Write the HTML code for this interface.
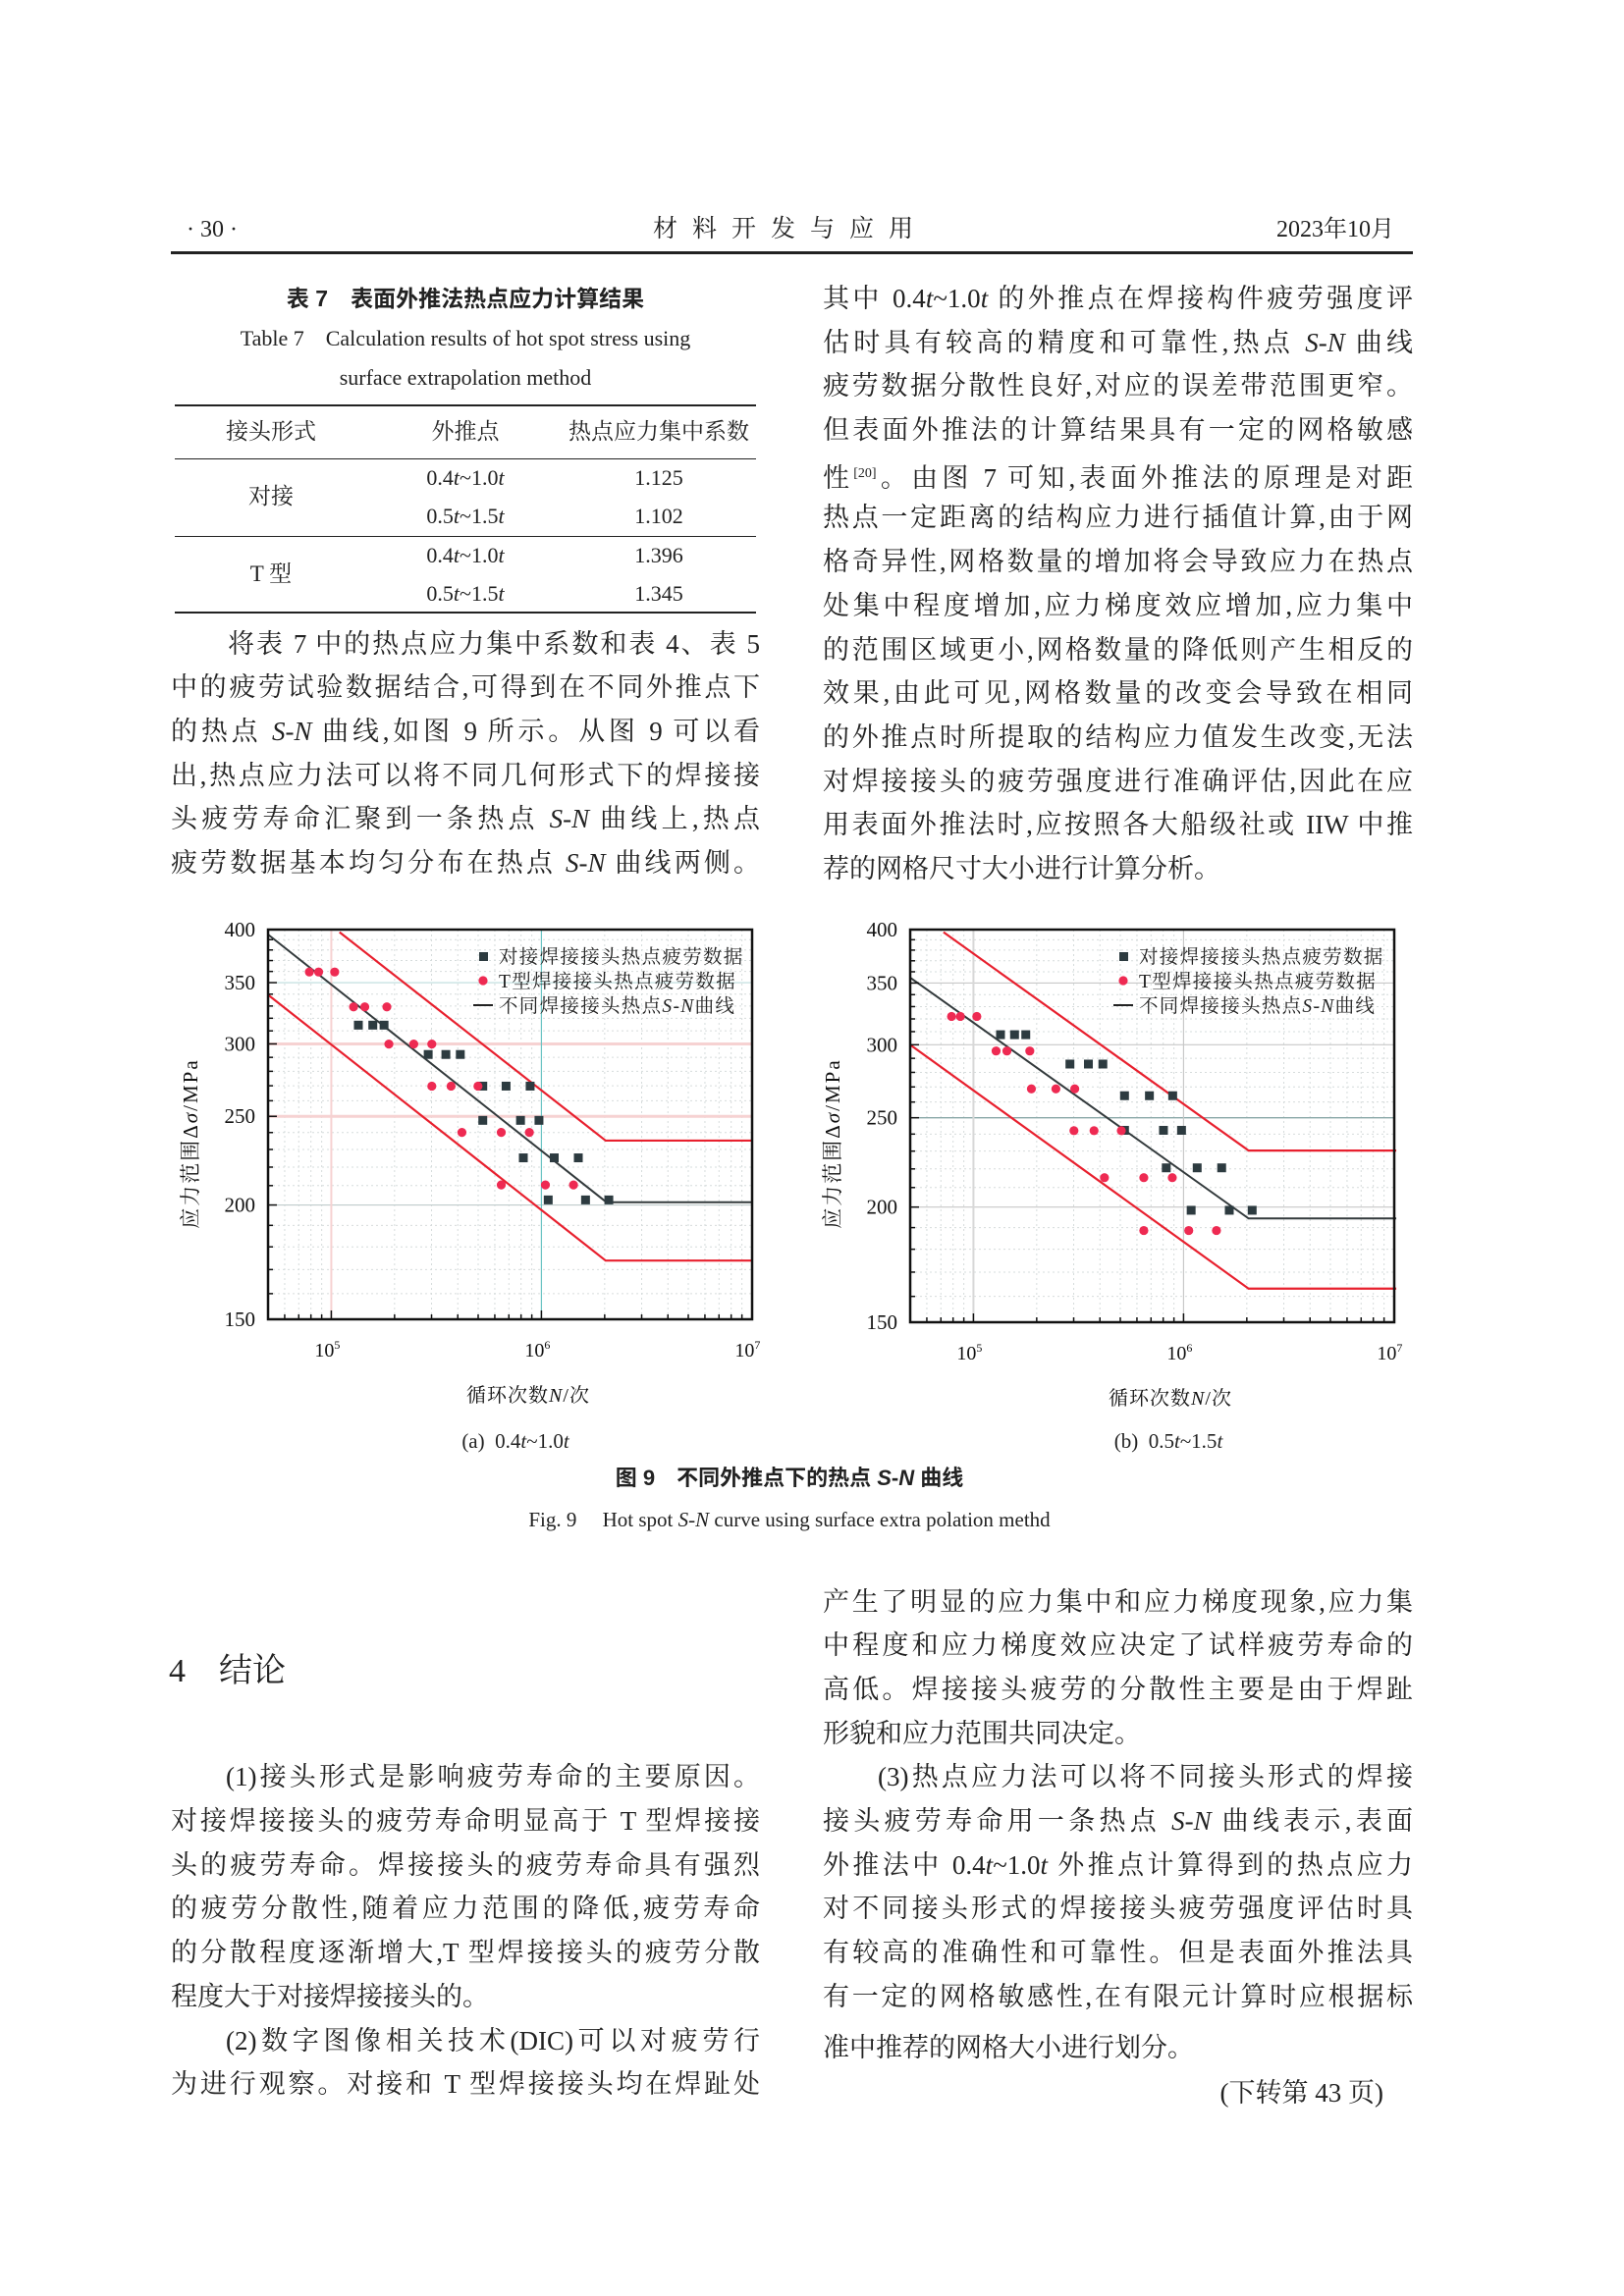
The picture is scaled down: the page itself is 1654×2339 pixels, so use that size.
<!DOCTYPE html>
<html><head><meta charset="utf-8">
<style>
body{margin:0;background:#fff;}
#pg{position:relative;width:1654px;height:2339px;overflow:hidden;background:#fff;font-family:"Liberation Serif","Noto Serif CJK SC",serif;color:#222;}
.l{position:absolute;height:40px;line-height:40px;font-size:27px;white-space:nowrap;}
.j{text-align:justify;text-align-last:justify;}
.c{text-align:center;}
.rule{position:absolute;background:#222;}
svg text{font-family:"Liberation Serif","Noto Serif CJK SC",serif;}
</style></head><body>
<div id="pg">
<div class="l" style="left:190px;top:214px;font-size:24px">· 30 ·</div>
<div class="l c" style="left:640px;top:214px;width:330px;font-size:25px;letter-spacing:15px">材料开发与应用</div>
<div class="l" style="left:1270px;top:214px;width:150px;font-size:24px;text-align:right">2023年10月</div>
<div class="rule" style="left:174px;top:256px;width:1265px;height:3px"></div>

<div class="l c" style="left:174px;top:284px;width:600px;font-size:23px;font-weight:bold;font-family:'Liberation Sans','Noto Sans CJK SC',sans-serif">表 7　表面外推法热点应力计算结果</div>
<div class="l c" style="left:174px;top:325px;width:600px;font-size:22px">Table 7　Calculation results of hot spot stress using</div>
<div class="l c" style="left:174px;top:365px;width:600px;font-size:22px">surface extrapolation method</div>
<div class="rule" style="left:178px;top:412px;width:592px;height:2px"></div>
<div class="rule" style="left:178px;top:467px;width:592px;height:1px"></div>
<div class="rule" style="left:178px;top:546px;width:592px;height:1px"></div>
<div class="rule" style="left:178px;top:623px;width:592px;height:2px"></div>
<div class="l c" style="left:176px;top:420px;width:200px;font-size:23px">接头形式</div>
<div class="l c" style="left:374px;top:420px;width:200px;font-size:23px">外推点</div>
<div class="l c" style="left:570px;top:420px;width:202px;font-size:23px">热点应力集中系数</div>
<div class="l c" style="left:176px;top:486px;width:200px;font-size:23px">对接</div>
<div class="l c" style="left:176px;top:565px;width:200px;font-size:23px">T 型</div>
<div class="l c" style="left:374px;top:467px;width:200px;font-size:22px">0.4<i>t</i>~1.0<i>t</i></div>
<div class="l c" style="left:374px;top:506px;width:200px;font-size:22px">0.5<i>t</i>~1.5<i>t</i></div>
<div class="l c" style="left:374px;top:546px;width:200px;font-size:22px">0.4<i>t</i>~1.0<i>t</i></div>
<div class="l c" style="left:374px;top:585px;width:200px;font-size:22px">0.5<i>t</i>~1.5<i>t</i></div>
<div class="l c" style="left:570px;top:467px;width:202px;font-size:22px">1.125</div>
<div class="l c" style="left:570px;top:506px;width:202px;font-size:22px">1.102</div>
<div class="l c" style="left:570px;top:546px;width:202px;font-size:22px">1.396</div>
<div class="l c" style="left:570px;top:585px;width:202px;font-size:22px">1.345</div>

<div id="txt"></div>
<svg id="sv" width="1654" height="2339" style="position:absolute;left:0;top:0"></svg>

<div class="l c" style="left:420px;top:1448px;width:210px;font-size:21px">(a)&nbsp; 0.4<i>t</i>~1.0<i>t</i></div>
<div class="l c" style="left:1085px;top:1448px;width:210px;font-size:21px">(b)&nbsp; 0.5<i>t</i>~1.5<i>t</i></div>
<div class="l c" style="left:404px;top:1486px;width:800px;font-size:22px;font-weight:bold;font-family:'Liberation Sans','Noto Sans CJK SC',sans-serif">图 9　不同外推点下的热点 <i>S</i>-<i>N</i> 曲线</div>
<div class="l c" style="left:354px;top:1528px;width:900px;font-size:21px">Fig. 9　 Hot spot <i>S</i>-<i>N</i> curve using surface extra polation methd</div>
<div class="l" style="left:172px;top:1678px;font-size:34px;height:50px;line-height:50px">4　结论</div>
</div>
<script>
var S=1.49;
function L(x,w,c,t,j){var d=document.createElement('div');d.className='l'+(j?' j':'');d.style.left=x+'px';d.style.width=w+'px';d.style.top=(c*S-20)+'px';d.innerHTML=t;document.getElementById('txt').appendChild(d);}
var LX=174,LW=600,RX=838,RW=601,I='<span style="display:inline-block;width:56px"></span>';
var R=['其中 0.4<i>t</i>~1.0<i>t</i> 的外推点在焊接构件疲劳强度评','估时具有较高的精度和可靠性,热点 <i>S</i>-<i>N</i> 曲线','疲劳数据分散性良好,对应的误差带范围更窄。','但表面外推法的计算结果具有一定的网格敏感','性<sup style="font-size:14px">[20]</sup>。由图 7 可知,表面外推法的原理是对距','热点一定距离的结构应力进行插值计算,由于网','格奇异性,网格数量的增加将会导致应力在热点','处集中程度增加,应力梯度效应增加,应力集中','的范围区域更小,网格数量的降低则产生相反的','效果,由此可见,网格数量的改变会导致在相同','的外推点时所提取的结构应力值发生改变,无法','对焊接接头的疲劳强度进行准确评估,因此在应','用表面外推法时,应按照各大船级社或 IIW 中推','荐的网格尺寸大小进行计算分析。'];
R.forEach(function(t,i){L(RX,RW,204+30*i,t,i<13);});
var A=[I+'将表 7 中的热点应力集中系数和表 4、表 5','中的疲劳试验数据结合,可得到在不同外推点下','的热点 <i>S</i>-<i>N</i> 曲线,如图 9 所示。从图 9 可以看','出,热点应力法可以将不同几何形式下的焊接接','头疲劳寿命汇聚到一条热点 <i>S</i>-<i>N</i> 曲线上,热点','疲劳数据基本均匀分布在热点 <i>S</i>-<i>N</i> 曲线两侧。'];
A.forEach(function(t,i){L(LX,LW,440+30*i,t,true);});
var B=[I+'(1)接头形式是影响疲劳寿命的主要原因。','对接焊接接头的疲劳寿命明显高于 T 型焊接接','头的疲劳寿命。焊接接头的疲劳寿命具有强烈','的疲劳分散性,随着应力范围的降低,疲劳寿命','的分散程度逐渐增大,T 型焊接接头的疲劳分散','程度大于对接焊接接头的。',I+'(2)数字图像相关技术(DIC)可以对疲劳行','为进行观察。对接和 T 型焊接接头均在焊趾处'];
B.forEach(function(t,i){L(LX,LW,1215+30*i,t,i!=5);});
var C=['产生了明显的应力集中和应力梯度现象,应力集','中程度和应力梯度效应决定了试样疲劳寿命的','高低。焊接接头疲劳的分散性主要是由于焊趾','形貌和应力范围共同决定。',I+'(3)热点应力法可以将不同接头形式的焊接','接头疲劳寿命用一条热点 <i>S</i>-<i>N</i> 曲线表示,表面','外推法中 0.4<i>t</i>~1.0<i>t</i> 外推点计算得到的热点应力','对不同接头形式的焊接接头疲劳强度评估时具','有较高的准确性和可靠性。但是表面外推法具','有一定的网格敏感性,在有限元计算时应根据标','准中推荐的网格大小进行划分。'];
C.forEach(function(t,i){L(RX,RW,1095+30*i+(i==10?5:0),t,i!=3&&i!=10);});
L(RX,RW-30,1431,'<div style="text-align:right">(下转第 43 页)</div>',false);

var sv=document.getElementById('sv'),h='';
function chart(o){
 var lg=Math.log10,x0=lg(5e4);
 function xp(n){return o.l+(lg(n)-x0)*214;}
 function yp(s){return o.t+(lg(400)-lg(s))/lg(400/150)*o.h;}
 var r=o.l+493,b=o.t+o.h;
 for(var s=160;s<400;s+=10){if(s%50)h+='<line x1="'+o.l+'" x2="'+r+'" y1="'+yp(s)+'" y2="'+yp(s)+'" stroke="#d6dcdc" stroke-width="1" stroke-dasharray="2,3"/>';}
 for(var d=4;d<7;d++)for(var m=1;m<10;m++){var n=m*Math.pow(10,d);if(n<=5e4||m==1)continue;var X=xp(n);h+='<line x1="'+X+'" x2="'+X+'" y1="'+o.t+'" y2="'+b+'" stroke="#d6dcdc" stroke-width="1" stroke-dasharray="2,3"/>';}
 [350,300,250,200].forEach(function(s,i){h+='<line x1="'+o.l+'" x2="'+r+'" y1="'+yp(s)+'" y2="'+yp(s)+'" stroke="'+o.hc[i]+'" stroke-width="'+(o.hw[i])+'"/>';});
 h+='<line x1="'+xp(1e5)+'" x2="'+xp(1e5)+'" y1="'+o.t+'" y2="'+b+'" stroke="'+o.v1+'" stroke-width="2"/>';
 h+='<line x1="'+xp(1e6)+'" x2="'+xp(1e6)+'" y1="'+o.t+'" y2="'+b+'" stroke="'+o.v2+'" stroke-width="1.2"/>';
 function Z(p){return [o.l+(p[0]-o.zx)*0.4088,o.t+(p[1]-50)*o.zs];}
 function pl(pts,c,w){h+='<polyline fill="none" stroke="'+c+'" stroke-width="'+w+'" points="'+pts.map(function(p){var q=Z(p);return q[0]+','+q[1];}).join(' ')+'"/>';}
 pl(o.up,'#e8202e',2.2);pl(o.lo,'#e8202e',2.2);pl(o.bk,'#333a3c',2);
 o.sq.forEach(function(p){var q=Z(p);h+='<rect x="'+(q[0]-4.5)+'" y="'+(q[1]-4.5)+'" width="9" height="9" fill="#2d3b40"/>';});
 o.ci.forEach(function(p){var q=Z(p);h+='<circle cx="'+q[0]+'" cy="'+q[1]+'" r="4.6" fill="#ee2a52"/>';});
 for(var s=150;s<=400;s+=10){var Y=yp(s);h+='<line x1="'+o.l+'" x2="'+(o.l+(s%50?5:9))+'" y1="'+Y+'" y2="'+Y+'" stroke="#111" stroke-width="1.5"/>';}
 for(var d=4;d<7;d++)for(var m=1;m<10;m++){var n=m*Math.pow(10,d);if(n<5e4)continue;var X=xp(n);h+='<line x1="'+X+'" x2="'+X+'" y1="'+b+'" y2="'+(b-(m==1?9:5))+'" stroke="#111" stroke-width="1.5"/>';}
 h+='<rect x="'+o.l+'" y="'+o.t+'" width="493" height="'+o.h+'" fill="none" stroke="#111" stroke-width="2.5"/>';
 [150,200,250,300,350,400].forEach(function(s){h+='<text x="'+(o.l-13)+'" y="'+(yp(s)+7)+'" font-size="21" text-anchor="end" fill="#111">'+s+'</text>';});
 [5,6,7].forEach(function(e){h+='<text x="'+(xp(Math.pow(10,e))-4)+'" y="'+(b+38)+'" font-size="20" text-anchor="middle" fill="#111">10<tspan dy="-8" font-size="12">'+e+'</tspan></text>';});
 h+='<text transform="translate('+(o.l-72)+','+(o.t+218)+') rotate(-90)" font-size="21" letter-spacing="2" text-anchor="middle" fill="#111">应力范围Δ<tspan font-style="italic">σ</tspan>/MPa</text>';
 h+='<text x="'+(o.l+265)+'" y="'+(b+84)+'" font-size="20" letter-spacing="1" text-anchor="middle" fill="#111">循环次数<tspan font-style="italic">N</tspan>/次</text>';
 var lx=o.l+o.lgx,ly=o.t+27;
 h+='<rect x="'+(lx-4)+'" y="'+(ly-4)+'" width="9" height="9" fill="#2d3b40"/>';
 h+='<circle cx="'+lx+'" cy="'+(ly+25)+'" r="4.6" fill="#ee2a52"/>';
 h+='<line x1="'+(lx-10)+'" x2="'+(lx+10)+'" y1="'+(ly+50)+'" y2="'+(ly+50)+'" stroke="#222" stroke-width="2"/>';
 ['对接焊接接头热点疲劳数据','T型焊接接头热点疲劳数据','不同焊接接头热点<tspan font-style="italic">S-N</tspan>曲线'].forEach(function(t,i){h+='<text x="'+(lx+16)+'" y="'+(ly+7+25*i)+'" font-size="19.5" letter-spacing="1.3" fill="#222">'+t+'</text>';});
}
chart({l:273,t:947,h:397,zx:277,zs:0.3322,lgx:219,hc:['#bcdcdc','#f6d2d2','#f6d2d2','#c0cccc'],hw:[1.2,3,3,1.2],v1:'#f6d2d2',v2:'#6cc4c4',
 bk:[[277,65],[1120,886],[1483,886]],up:[[455,58],[1118,697],[1483,697]],lo:[[277,250],[1118,1065],[1483,1065]],
 sq:[[502,343],[538,343],[566,343],[676,433],[720,433],[756,433],[812,530],[870,530],[930,530],[812,635],[906,635],[952,635],[913,750],[990,750],[1050,750],[975,879],[1068,879],[1126,879]],
 ci:[[380,180],[403,180],[443,180],[490,287],[518,287],[573,287],[578,401],[640,401],[685,401],[685,530],[733,530],[800,530],[760,672],[858,672],[928,672],[858,833],[968,833],[1038,833]]});
chart({l:927,t:947,h:400,zx:262,zs:0.3325,lgx:217,hc:['#c8c8c8','#c8c8c8','#8aa8a8','#c8c8c8'],hw:[1.2,1.2,1.4,1.2],v1:'#d8d8d8',v2:'#c8c8c8',
 bk:[[262,197],[1105,935],[1473,935]],up:[[345,58],[1105,727],[1473,727]],lo:[[262,403],[1105,1150],[1473,1150]],
 sq:[[487,372],[522,372],[550,372],[660,462],[706,462],[742,462],[796,559],[858,559],[916,559],[796,665],[893,665],[938,665],[900,780],[977,780],[1038,780],[962,910],[1057,910],[1114,910]],
 ci:[[365,316],[387,316],[428,316],[476,422],[503,422],[560,422],[564,538],[625,538],[672,538],[670,666],[720,666],[788,666],[746,810],[844,810],[915,810],[844,972],[956,972],[1025,972]]});
sv.innerHTML=h;
</script>
</body></html>
